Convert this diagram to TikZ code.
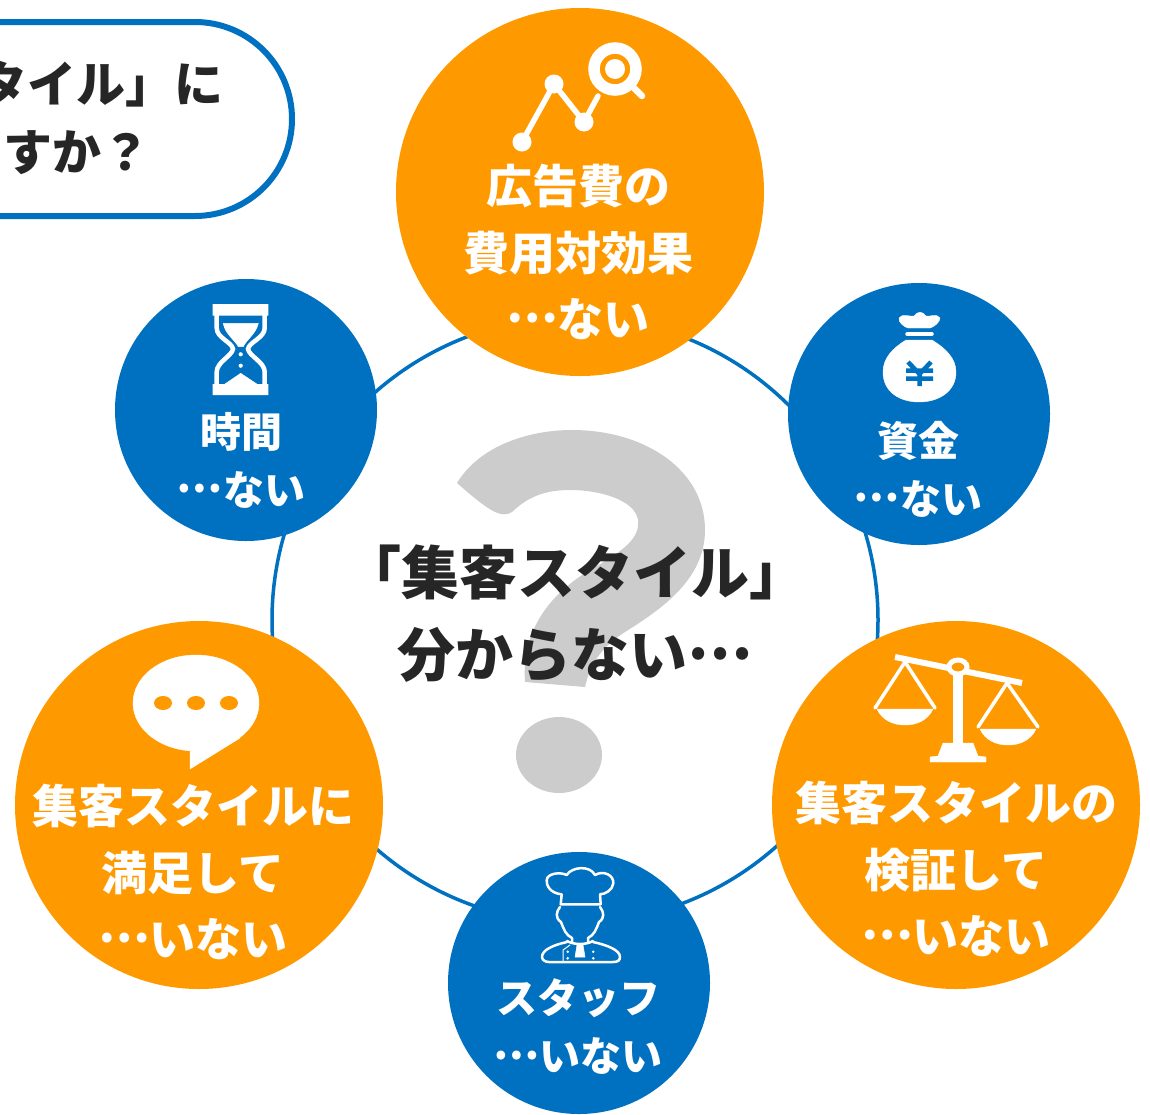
\documentclass[tikz,border=0pt]{standalone}
\usepackage{fontspec}
\setmainfont{Noto Sans CJK JP}
\usepackage{tikz}
\usetikzlibrary{positioning}
\usetikzlibrary{shapes,arrows}
\definecolor{bubbleorange}{HTML}{FF9900}
\definecolor{bubbleblue}{HTML}{0070C0}
\definecolor{markgrey}{HTML}{CCCCCC}
\definecolor{inktext}{HTML}{262626}
\newcommand{\middots}{\raisebox{.3em}{…}}
\tikzstyle{bubble} = [circle, inner sep=0pt, text=white]
\tikzstyle{bigbubble} = [bubble, fill=bubbleorange, minimum size=368pt]
\tikzstyle{smallbubble} = [bubble, fill=bubbleblue, minimum size=262pt]
\tikzstyle{biglabel} = [text=white, align=center, inner sep=0pt, font=\bfseries\fontsize{46}{66.5}\selectfont]
\tikzstyle{smalllabel} = [text=white, align=center, inner sep=0pt, font=\bfseries\fontsize{41}{58}\selectfont]
\tikzstyle{darklabel} = [text=inktext, inner sep=0pt, font=\bfseries\fontsize{49}{70}\selectfont]
\tikzstyle{icon} = [draw=white, fill=white, line join=round]
\tikzstyle{iconline} = [draw=white, line cap=round, line join=round]

\begin{document}
\begin{tikzpicture}[x=1pt,y=-1pt]
        \useasboundingbox (0,0) rectangle (1150,1114);
        \clip (0,0) rectangle (1150,1114);
        % ring and question mark
        \node[circle, draw=bubbleblue, line width=3.5pt, inner sep=0pt, minimum size=606pt](ring) at (575,620){};
        \path[fill=markgrey] (457,483) .. controls (480,445) and (530,430) .. (572,430)
            .. controls (645,430) and (705,470) .. (705,530)
            .. controls (705,580) and (660,610) .. (625,632)
            .. controls (600,648) and (590,665) .. (585,687) -- (525,682)
            .. controls (522,640) and (540,600) .. (590,570)
            .. controls (625,550) and (640,538) .. (638,520)
            .. controls (635,500) and (600,490) .. (570,490)
            .. controls (540,490) and (525,500) .. (512,512)
            .. controls (502,518) and (492,514) .. (457,483) -- cycle;
        \node[ellipse, fill=markgrey, inner sep=0pt, minimum width=86pt, minimum height=76pt](dot) at (559,755){};
        \node[darklabel, font=\bfseries\fontsize{58}{82}\selectfont, align=center](title) at (575,614){「集客スタイル」\\分からない\middots};
        % pill, cut by the left edge
        \node[rectangle, draw=bubbleblue, line width=6pt, rounded corners=97pt, minimum width=500pt, minimum height=194pt, inner sep=0pt](pill) at (42,119){};
        \node[darklabel, anchor=east](pilltop) at (224,84){タイル」に};
        \node[darklabel, anchor=east](pillbottom) at (151,153){ますか？};
        % bubbles
        \node[bigbubble](adcost) at (580,192){};
        \node[smallbubble](funds) at (919,414){};
        \node[bigbubble](verify) at (956,805){};
        \node[smallbubble](staff) at (579,983){};
        \node[bigbubble](satisfied) at (199,805){};
        \node[smallbubble](time) at (246,410){};
        % bubble texts
        \node[biglabel](adcostlabel) at (578,252){広告費の\\費用対効果\\\middots ない};
        \node[smalllabel](fundslabel) at (918,469){資金\\\middots ない};
        \node[biglabel](verifylabel) at (956,869){集客スタイルの\\検証して\\\middots いない};
        \node[smalllabel](stafflabel) at (578,1027){スタッフ\\\middots いない};
        \node[biglabel](satisfiedlabel) at (193,872){集客スタイルに\\満足して\\\middots いない};
        \node[smalllabel](timelabel) at (241,460){時間\\\middots ない};
        % chart and magnifier
        \draw[iconline, line width=5.5pt] (522,142) -- (554,84) -- (584,122) -- (598,96);
        \fill[white] (522,142) circle (9.5) (554,84) circle (9.5) (584,122) circle (9.5);
        \draw[white, line width=11.5pt] (615,69) circle (21);
        \fill[white] (615,69) circle (10);
        \draw[iconline, line width=6.5pt] (634,88) -- (642,96);
        % money bag
        \path[icon] (899,318) .. controls (902,313) and (910,317) .. (914,316) .. controls (918,311) and (922,311) .. (926,316)
            .. controls (930,317) and (937,313) .. (940,318) .. controls (940,322) and (934,327) .. (930,328) -- (908,328) .. controls (904,327) and (898,322) .. (899,318) -- cycle;
        \draw[iconline, line width=3.5pt] (907,334) -- (932,334);
        \path[icon] (906,340) -- (932,340) .. controls (945,348) and (956,358) .. (956,372)
            .. controls (956,392) and (938,402) .. (919,402) .. controls (900,402) and (883,392) .. (883,372)
            .. controls (883,358) and (893,348) .. (906,340) -- cycle;
        \draw[bubbleblue, line width=4.5pt] (908,362) -- (919.5,374) -- (931,362) (919.5,374) -- (919.5,386) (906,370.5) -- (933,370.5) (906,378.5) -- (933,378.5);
        % scales
        \draw[white, line width=6pt] (895,657) -- (1022,683);
        \fill[white] (953,667) rectangle (963,745);
        \path[icon] (943,743) -- (973,743) -- (978,756) -- (986,757) -- (986,762) -- (930,762) -- (930,757) -- (938,756) -- cycle;
        \draw[white, fill=bubbleorange, line width=5pt] (958,667) ellipse (9 and 7);
        \draw[iconline, line width=3.5pt] (875,708) -- (905,662) -- (935,708);
        \path[icon] (877,709) -- (933,709) .. controls (928,720) and (917,725) .. (905,725) .. controls (893,725) and (882,720) .. (877,709) -- cycle;
        \draw[iconline, line width=3.5pt] (978,727) -- (1007,683) -- (1038,727);
        \path[icon] (980,729) -- (1036,729) .. controls (1031,740) and (1020,745) .. (1008,745) .. controls (996,745) and (985,740) .. (980,729) -- cycle;
        % cook
        \draw[iconline, line width=2.5pt] (560.7,904.3) -- (561.7,894.3) .. controls (550,893.3) and (546,885) .. (546.7,880)
            .. controls (547.3,873.3) and (560,871.7) .. (566.7,875) .. controls (571.7,866.7) and (590,865) .. (595,875)
            .. controls (603.3,870) and (614,875) .. (613.3,883.3) .. controls (612.7,890) and (605,894.3) .. (600,894.3)
            -- (600.7,904.3) -- cycle;
        \draw[iconline, line width=2.5pt] (560,907) .. controls (556,912) and (555,918) .. (561,922) .. controls (564,930) and (566,935) .. (572,938) -- (572,942);
        \draw[iconline, line width=2.5pt] (600,907) .. controls (604,912) and (605,918) .. (599,922) .. controls (596,930) and (594,935) .. (588,938) -- (588,942);
        \draw[iconline, line width=2.5pt] (567,942) .. controls (553,945) and (542,950) .. (542,957) .. controls (542,961) and (547,962) .. (549,962)
            -- (613,962) .. controls (617,962) and (620,961) .. (620,957) .. controls (620,950) and (607,945) .. (593,942);
        \draw[iconline, line width=2.5pt] (567,941) .. controls (574,945) and (586,945) .. (593,941);
        \path[icon, line width=.5pt] (577,945) -- (583,945) -- (585,957) -- (575,957) -- cycle;
        \draw[iconline, line width=1pt] (570,945) -- (563,950) -- (563,962);
        \fill[white] (567.7,951.7) circle (1.4) (567.7,958.3) circle (1.4) (593.3,951.7) circle (1.4) (593.3,958.3) circle (1.4);
        % speech bubble
        \path[icon] (196,703) ellipse (63 and 48);
        \path[icon] (190,745) -- (190,769) -- (240,738) -- cycle;
        \fill[bubbleorange] (163,703) ellipse (9 and 7) (196,703) ellipse (9 and 7) (229,703) ellipse (9 and 7);
        % hourglass
        \fill[white] (212.7,304) rectangle (268.3,315.7) (212.7,384) rectangle (268.3,395);
        \draw[white, line width=4.5pt] (216.7,315) -- (216.7,328) .. controls (216.7,338) and (232,342) .. (233,349)
            .. controls (232,356) and (216.7,362) .. (216.7,372) -- (216.7,385)
            (264.7,315) -- (264.7,328) .. controls (264.7,338) and (249,342) .. (248,349)
            .. controls (249,356) and (264.7,362) .. (264.7,372) -- (264.7,385);
        \path[icon, line width=.5pt] (223.3,323.3) -- (258.3,323.3) .. controls (256,334) and (246,340) .. (243.3,346.7) -- (238.3,346.7) .. controls (235,340) and (225,334) .. (223.3,323.3) -- cycle;
        \fill[white] (240.7,354.3) circle (2.1) (240.7,365.7) circle (2.1);
        \path[icon, line width=.5pt] (240.7,373.3) -- (256.7,384) -- (225,384) -- cycle;
    \end{tikzpicture}
\end{document}
